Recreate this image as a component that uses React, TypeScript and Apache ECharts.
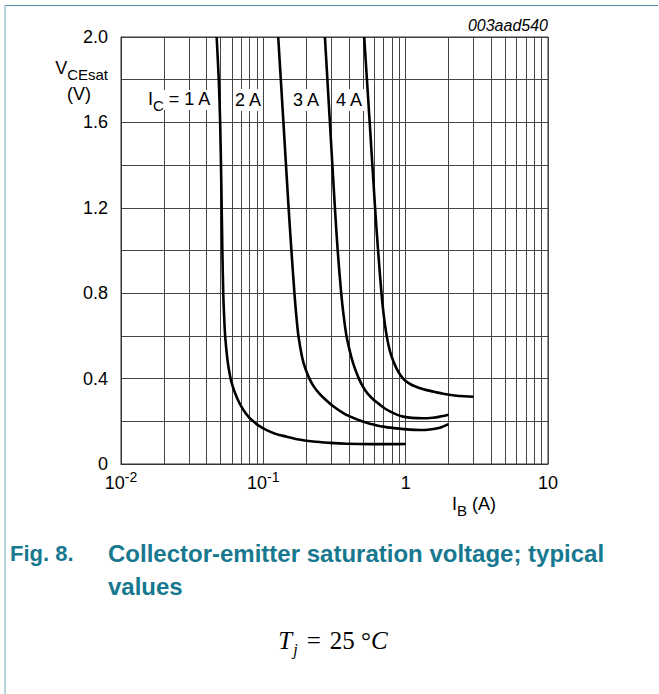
import React, { useEffect, useRef } from "react";
import * as echarts from "echarts";

// I_B (A) vs V_CEsat (V), one curve per collector current
const curveIc1A: [number, number][] = [
  [0.047, 2.0], [0.04862, 1.8], [0.04973, 1.6], [0.05071, 1.3], [0.05153, 1.0],
  [0.05229, 0.8], [0.05297, 0.7], [0.05392, 0.6], [0.05569, 0.5], [0.05706, 0.45],
  [0.05893, 0.4], [0.06117, 0.36], [0.06349, 0.33], [0.06632, 0.3], [0.06995, 0.27],
  [0.07474, 0.24], [0.07897, 0.22], [0.08493, 0.2], [0.09282, 0.18], [0.1055, 0.159],
  [0.1236, 0.14], [0.1458, 0.128], [0.1778, 0.115], [0.2241, 0.105], [0.2935, 0.099],
  [0.3846, 0.095], [0.5605, 0.093], [0.7745, 0.093], [1.0, 0.094],
];
const curveIc2A: [number, number][] = [
  [0.1272, 2.0], [0.1384, 1.6], [0.1505, 1.2], [0.1575, 1.0], [0.1654, 0.8],
  [0.1702, 0.7], [0.1764, 0.6], [0.1873, 0.5], [0.1966, 0.45], [0.2107, 0.4],
  [0.2277, 0.36], [0.2477, 0.33], [0.2752, 0.3], [0.3132, 0.268], [0.3622, 0.24],
  [0.4089, 0.222], [0.4925, 0.2], [0.5516, 0.19], [0.6916, 0.175], [0.8631, 0.167],
  [1.07, 0.161], [1.258, 0.159], [1.528, 0.163], [1.739, 0.17], [2.0, 0.187],
];
const curveIc3A: [number, number][] = [
  [0.2708, 2.0], [0.2935, 1.6], [0.3183, 1.2], [0.333, 1.0], [0.3524, 0.8],
  [0.3658, 0.7], [0.3839, 0.6], [0.4156, 0.5], [0.4384, 0.45], [0.4692, 0.4],
  [0.503, 0.36], [0.5409, 0.33], [0.598, 0.3], [0.6411, 0.284], [0.7144, 0.26],
  [0.7808, 0.245], [0.8744, 0.23], [0.9604, 0.222], [1.1055, 0.216], [1.327, 0.214],
  [1.553, 0.217], [1.739, 0.222], [2.0, 0.231],
];
const curveIc4A: [number, number][] = [
  [0.5112, 2.0], [0.5587, 1.6], [0.6097, 1.2], [0.64, 1.0], [0.6761, 0.8],
  [0.7006, 0.7], [0.7355, 0.6], [0.7745, 0.53], [0.8209, 0.48], [0.8744, 0.44],
  [0.9344, 0.41], [0.9952, 0.39], [1.1055, 0.37], [1.248, 0.356], [1.402, 0.346],
  [1.63, 0.336], [1.834, 0.329], [2.216, 0.321], [2.604, 0.317], [3.0, 0.315],
];
const minorGridX: number[] = [
  0.02, 0.03, 0.04, 0.05, 0.06, 0.07, 0.08, 0.09,
  0.2, 0.3, 0.4, 0.5, 0.6, 0.7, 0.8, 0.9,
  2, 3, 4, 5, 6, 7, 8, 9,
];
const yTickLabels: number[] = [0, 0.4, 0.8, 1.2, 1.6, 2.0];

const FONT = "'Liberation Sans', Arial, sans-serif";
const SERIF = "'Liberation Serif', 'Times New Roman', serif";
const TEAL = "#17788f";

export default function App() {
  const ref = useRef<HTMLDivElement>(null);
  useEffect(() => {
    if (!ref.current) return;
    const chart = echarts.init(ref.current, undefined, { renderer: "svg" });
    const curveSeries = (data: [number, number][], name: string, extra: any = {}) => ({
      type: "line",
      name,
      data,
      smooth: 0.3,
      showSymbol: false,
      symbol: "none",
      silent: true,
      lineStyle: { color: "#000", width: 2.6 },
      emphasis: { disabled: true },
      z: 5,
      ...extra,
    });
    const subRich = {
      m: { fontSize: 18, fontFamily: FONT, fill: "#000", color: "#000", lineHeight: 20, verticalAlign: "top" },
      s: { fontSize: 15, fontFamily: FONT, fill: "#000", color: "#000", lineHeight: 15, padding: [8, 0, 0, 0], verticalAlign: "top" },
    };
    chart.setOption({
      animation: false,
      backgroundColor: "#fff",
      textStyle: { fontFamily: FONT },
      grid: {
        left: 121, top: 37, right: 111, bottom: 230,
        show: true, borderColor: "#333", borderWidth: 1, backgroundColor: "transparent",
      },
      xAxis: {
        type: "log",
        logBase: 10,
        min: 0.01,
        max: 10,
        axisLine: { show: true, lineStyle: { color: "#333", width: 1 } },
        axisTick: { show: false },
        splitLine: { show: true, lineStyle: { color: "#444", width: 1 } },
        axisLabel: {
          margin: 6,
          color: "#000",
          fontFamily: FONT,
          fontSize: 18,
          formatter: (v: number) => {
            if (v >= 1) return `{b|${Math.round(v)}}`;
            const e = Math.round(Math.log10(v));
            return `{b|10}{s|${e}}`;
          },
          rich: {
            b: { fontSize: 18, fontFamily: FONT, color: "#000", lineHeight: 20, padding: [4, 0, 0, 0], verticalAlign: "top" },
            s: { fontSize: 14, fontFamily: FONT, color: "#000", lineHeight: 14, verticalAlign: "top" },
          },
        },
      },
      yAxis: {
        type: "value",
        min: 0,
        max: 2,
        interval: 0.2,
        axisLine: { show: true, lineStyle: { color: "#333", width: 1 } },
        axisTick: { show: false },
        splitLine: { show: true, lineStyle: { color: "#444", width: 1 } },
        axisLabel: {
          margin: 13,
          color: "#000",
          fontFamily: FONT,
          fontSize: 18,
          formatter: (v: number) => {
            const hit = yTickLabels.find((t) => Math.abs(t - v) < 1e-6);
            if (hit === undefined) return "";
            return hit === 0 ? "0" : hit.toFixed(1);
          },
        },
      },
      series: [
        curveSeries(curveIc1A, "1 A", {
          markLine: {
            silent: true,
            symbol: ["none", "none"],
            label: { show: false },
            emphasis: { disabled: true },
            lineStyle: { color: "#444", width: 1, type: "solid" },
            data: minorGridX.map((x) => ({ xAxis: x })),
          },
        }),
        curveSeries(curveIc2A, "2 A"),
        curveSeries(curveIc3A, "3 A"),
        curveSeries(curveIc4A, "4 A"),
      ],
      graphic: [
        { type: "rect", shape: { x: 4, y: 5, width: 2, height: 689 }, style: { fill: "#b9d3dc" }, z: 100 },
        { type: "line", shape: { x1: 6, y1: 5.5, x2: 658, y2: 5.5 }, style: { stroke: "#4e8f9c", lineWidth: 1 }, z: 100 },
        {
          type: "text", x: 548, y: 25, z: 100,
          style: { text: "003aad540", font: `italic 16px ${FONT}`, fill: "#000", align: "right", verticalAlign: "middle" },
        },
        {
          type: "text", x: 108, y: 69, z: 100,
          style: { text: "{m|V}{s|CEsat}", align: "right", verticalAlign: "middle", rich: subRich },
        },
        {
          type: "text", x: 79, y: 94, z: 100,
          style: { text: "(V)", font: `18px ${FONT}`, fill: "#000", align: "center", verticalAlign: "middle" },
        },
        {
          type: "text", x: 147, y: 100, z: 100,
          style: {
            text: "{m|I}{s|C}{m| = 1 A}", align: "left", verticalAlign: "middle",
            backgroundColor: "#fff", padding: [0, 1, 0, 1], rich: subRich,
          },
        },
        {
          type: "text", x: 234, y: 100, z: 100,
          style: { text: "2 A", font: `18px ${FONT}`, fill: "#000", align: "left", verticalAlign: "middle", backgroundColor: "#fff", padding: [2, 1, 2, 1] },
        },
        {
          type: "text", x: 292, y: 100, z: 100,
          style: { text: "3 A", font: `18px ${FONT}`, fill: "#000", align: "left", verticalAlign: "middle", backgroundColor: "#fff", padding: [2, 1, 2, 1] },
        },
        {
          type: "text", x: 335, y: 100, z: 100,
          style: { text: "4 A", font: `18px ${FONT}`, fill: "#000", align: "left", verticalAlign: "middle", backgroundColor: "#fff", padding: [2, 1, 2, 1] },
        },
        {
          type: "text", x: 452, y: 505, z: 100,
          style: { text: "{m|I}{s|B}{m| (A)}", align: "left", verticalAlign: "middle", rich: subRich },
        },
        {
          type: "text", x: 10, y: 553, z: 100,
          style: { text: "Fig. 8.", font: `bold 22px ${FONT}`, fill: TEAL, align: "left", verticalAlign: "middle" },
        },
        {
          type: "text", x: 108, y: 553, z: 100,
          style: { text: "Collector-emitter saturation voltage; typical", font: `bold 24px ${FONT}`, fill: TEAL, align: "left", verticalAlign: "middle" },
        },
        {
          type: "text", x: 108, y: 586, z: 100,
          style: { text: "values", font: `bold 24px ${FONT}`, fill: TEAL, align: "left", verticalAlign: "middle" },
        },
        {
          type: "text", x: 333, y: 641, z: 100,
          style: {
            text: "{i|T}{s|j}{e|=}{m|25 °}{i|C}", align: "center", verticalAlign: "middle",
            rich: {
              i: { fontSize: 25, fontFamily: SERIF, fontStyle: "italic", fill: "#000", lineHeight: 26, verticalAlign: "top" },
              m: { fontSize: 25, fontFamily: SERIF, fill: "#000", lineHeight: 26, verticalAlign: "top" },
              e: { fontSize: 25, fontFamily: SERIF, fill: "#000", lineHeight: 26, verticalAlign: "top", padding: [0, 9, 0, 9] },
              s: { fontSize: 16, fontFamily: SERIF, fontStyle: "italic", fill: "#000", lineHeight: 16, padding: [13, 0, 0, 1], verticalAlign: "top" },
            },
          },
        },
      ],
    });
    return () => chart.dispose();
  }, []);
  return (
    <div
      ref={ref}
      style={{ position: "fixed", left: 0, top: 0, width: 659, height: 694, background: "#fff" }}
    />
  );
}
